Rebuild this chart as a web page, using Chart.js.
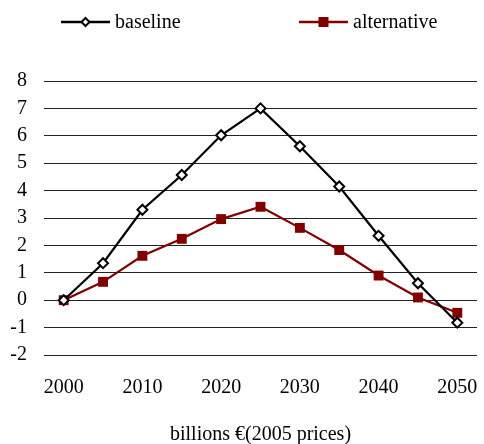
<!DOCTYPE html>
<html>
<head>
<meta charset="utf-8">
<script src="https://cdn.jsdelivr.net/npm/chart.js@4/dist/chart.umd.min.js"></script>
<style>
  html, body { margin: 0; padding: 0; background: #fff; }
  #chart { display: block; }
</style>
</head>
<body>
<canvas id="chart" width="484" height="444"></canvas>
<script>
  const years = ['2000','2005','2010','2015','2020','2025','2030','2035','2040','2045','2050'];
  const baseline = [0, 1.35, 3.3, 4.57, 6.02, 7.0, 5.62, 4.15, 2.35, 0.62, -0.82];
  const alternative = [0, 0.67, 1.62, 2.24, 2.96, 3.41, 2.64, 1.83, 0.9, 0.1, -0.46];
  const yTicks = { min: -2, max: 8, step: 1 };
  const xTitle = 'billions €(2005 prices)';

  const FONT = 'Liberation Serif, Times New Roman, serif';
  const DARKRED = '#800000';

  // Legend drawn by hand: line segment with marker, then the label
  const lineLegend = {
    id: 'lineLegend',
    afterDraw(chart) {
      const ctx = chart.ctx;
      const slots = [61, 299];
      const y = 22;
      ctx.save();
      chart.data.datasets.forEach((ds, i) => {
        const x0 = slots[i];
        ctx.strokeStyle = ds.borderColor;
        ctx.lineWidth = 2.5;
        ctx.beginPath();
        ctx.moveTo(x0, y);
        ctx.lineTo(x0 + 49, y);
        ctx.stroke();
        const cx = x0 + 24.5;
        if (ds.pointStyle === 'rectRot') {
          ctx.fillStyle = '#fff';
          ctx.lineWidth = 2;
          ctx.beginPath();
          ctx.moveTo(cx, y - 4);
          ctx.lineTo(cx + 4, y);
          ctx.lineTo(cx, y + 4);
          ctx.lineTo(cx - 4, y);
          ctx.closePath();
          ctx.fill();
          ctx.stroke();
        } else {
          ctx.fillStyle = ds.pointBackgroundColor;
          ctx.fillRect(cx - 5, y - 5, 10, 10);
        }
        ctx.fillStyle = '#000';
        ctx.font = '20px ' + FONT;
        ctx.textBaseline = 'middle';
        ctx.textAlign = 'left';
        ctx.fillText(ds.label, x0 + 54, y + 1);
      });
      ctx.restore();
    }
  };

  new Chart(document.getElementById('chart'), {
    type: 'line',
    data: {
      labels: years,
      datasets: [
        {
          label: 'baseline',
          data: baseline,
          borderColor: '#000',
          borderWidth: 2.2,
          pointStyle: 'rectRot',
          pointRadius: 5,
          pointBackgroundColor: '#fff',
          pointBorderColor: '#000',
          pointBorderWidth: 2,
          tension: 0
        },
        {
          label: 'alternative',
          data: alternative,
          borderColor: DARKRED,
          borderWidth: 2.2,
          pointStyle: 'rect',
          pointRadius: 7,
          pointBackgroundColor: DARKRED,
          pointBorderColor: DARKRED,
          pointBorderWidth: 0,
          tension: 0
        }
      ]
    },
    options: {
      responsive: false,
      animation: false,
      layout: { padding: { top: 81, left: 10, right: -3, bottom: 0 } },
      plugins: {
        legend: { display: false },
        tooltip: { enabled: false }
      },
      scales: {
        x: {
          offset: true,
          grid: { display: false, drawTicks: false },
          border: { display: false },
          afterFit(scale) {
            scale.height = 89;
            scale.paddingLeft = 0;
            scale.paddingRight = 0;
          },
          ticks: {
            autoSkip: false,
            maxRotation: 0,
            padding: 21,
            color: '#000',
            font: { family: FONT, size: 20 },
            callback: function(v) {
              const yr = +this.getLabelForValue(v);
              return yr % 10 === 0 ? String(yr) : '';
            }
          },
          title: {
            display: true,
            text: xTitle,
            color: '#000',
            font: { family: FONT, size: 20 },
            padding: { top: 22, bottom: -3 }
          }
        },
        y: {
          min: yTicks.min,
          max: yTicks.max,
          grid: { color: '#222', lineWidth: 1, drawTicks: false },
          border: { display: false },
          afterFit(scale) { scale.width = 34; },
          ticks: {
            stepSize: yTicks.step,
            autoSkip: false,
            padding: 17,
            color: '#000',
            font: { family: FONT, size: 20 }
          }
        }
      }
    },
    plugins: [lineLegend]
  });
</script>
</body>
</html>
